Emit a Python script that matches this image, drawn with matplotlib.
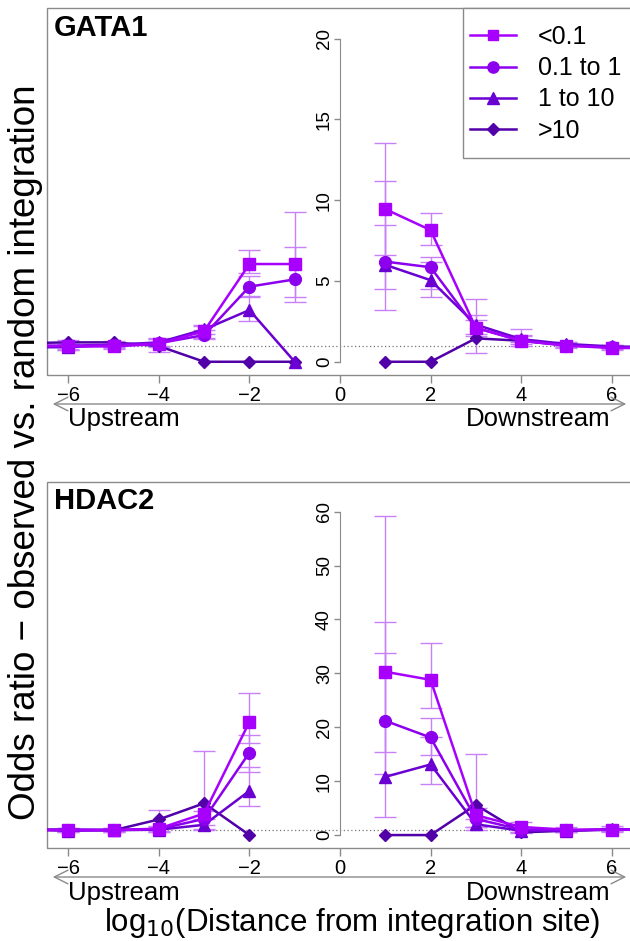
import numpy as np
import matplotlib
matplotlib.use("Agg")
import matplotlib.pyplot as plt
from matplotlib.patches import Rectangle, FancyArrowPatch
from matplotlib.lines import Line2D

plt.rcParams['font.family'] = ['Liberation Sans', 'DejaVu Sans']

nan = np.nan

# ---------------- data ----------------
categories = ["<0.1", "0.1 to 1", "1 to 10", ">10"]
tick_x = [-6, -4, -2, 0, 2, 4, 6]

# GATA1
g_x_up = [-7, -6, -5, -4, -3, -2, -1]
g_x_dn = [1, 2, 3, 4, 5, 6, 7]
g_lt01_up = [1.0, 0.95, 0.95, 1.1, 1.9, 6.05, 6.05]
g_lt01_dn = [9.45, 8.15, 2.1, 1.3, 1.0, 0.85, 0.85]
g_01to1_up = [1.0, 1.0, 1.05, 1.15, 1.65, 4.65, 5.1]
g_01to1_dn = [6.2, 5.85, 2.1, 1.3, 1.0, 0.9, 0.85]
g_1to10_up = [0.9, 0.9, 1.05, 1.2, 2.0, 3.2, 0.0]
g_1to10_dn = [6.0, 5.05, 2.3, 1.4, 1.1, 0.95, 0.9]
g_gt10_up = [1.15, 1.2, 1.2, 0.97, 0.0, 0.0, 0.0]
g_gt10_dn = [0.0, 0.0, 1.45, 1.3, 1.05, 0.9, 0.9]

# GATA1 confidence limits (low, high)
g_lt01_up_lo = [nan, 0.75, 0.8, 0.6, 1.5, 5.5, 3.7]
g_lt01_up_hi = [nan, 1.35, 1.3, 1.4, 2.2, 6.9, 9.26]
g_lt01_dn_lo = [6.6, 7.2, 0.53, 1.0, 0.85, 0.75, nan]
g_lt01_dn_hi = [13.55, 9.2, 3.88, 2.05, 1.2, 1.05, nan]
g_01to1_up_lo = [nan, 0.8, 0.85, 0.9, 1.4, 4.1, 4.0]
g_01to1_up_hi = [nan, 1.2, 1.25, 1.4, 1.95, 5.3, 7.1]
g_01to1_dn_lo = [3.2, 4.5, 1.6, 1.1, 0.9, 0.8, nan]
g_01to1_dn_hi = [11.2, 6.5, 2.6, 1.6, 1.15, 1.0, nan]
g_1to10_up_lo = [nan, 0.75, 0.9, 1.0, 1.7, 2.5, nan]
g_1to10_up_hi = [nan, 1.1, 1.2, 1.45, 2.3, 4.0, nan]
g_1to10_dn_lo = [4.5, 4.0, 1.7, 1.2, 0.95, 0.85, nan]
g_1to10_dn_hi = [8.45, 6.2, 2.9, 1.65, 1.25, 1.05, nan]

# HDAC2
h_x_up = [-7, -6, -5, -4, -3, -2]
h_x_dn = [1, 2, 3, 4, 5, 6, 7]
h_lt01_up = [1.0, 0.9, 0.9, 1.2, 4.0, 21.0]
h_lt01_dn = [30.3, 28.8, 3.7, 1.5, 1.0, 1.0, 1.0]
h_01to1_up = [1.0, 1.0, 1.0, 1.1, 3.0, 15.3]
h_01to1_dn = [21.2, 18.1, 3.0, 1.0, 0.9, 1.0, 1.0]
h_1to10_up = [1.0, 0.8, 0.9, 1.0, 1.9, 8.2]
h_1to10_dn = [10.8, 13.1, 2.0, 0.8, 0.8, 1.1, 1.0]
h_gt10_up = [1.0, 1.0, 0.9, 2.9, 5.9, 0.0]
h_gt10_dn = [0.0, 0.0, 5.6, 0.5, 0.8, 1.0, 1.0]

h_lt01_up_lo = [nan, 0.6, 0.6, 0.5, 1.0, 17.1]
h_lt01_up_hi = [nan, 1.4, 1.4, 4.6, 15.6, 26.3]
h_lt01_dn_lo = [15.5, 23.5, 1.5, 0.3, 0.6, 0.6, nan]
h_lt01_dn_hi = [59.1, 35.6, 15.0, 2.5, 1.5, 1.6, nan]
h_01to1_up_lo = [nan, 0.7, 0.7, 0.7, 1.8, 11.7]
h_01to1_up_hi = [nan, 1.3, 1.3, 1.6, 4.5, 18.5]
h_01to1_dn_lo = [11.4, 14.9, 1.5, 0.6, 0.6, 0.7, nan]
h_01to1_dn_hi = [39.5, 21.8, 5.0, 1.5, 1.2, 1.4, nan]
h_1to10_up_lo = [nan, 0.5, 0.6, 0.6, 1.2, 5.4]
h_1to10_up_hi = [nan, 1.2, 1.2, 1.5, 3.0, 12.7]
h_1to10_dn_lo = [3.4, 9.5, 1.0, 0.5, 0.5, 0.8, nan]
h_1to10_dn_hi = [33.8, 18.2, 3.0, 1.2, 1.1, 1.4, nan]

colors = ['#A800FF', '#8C00EE', '#6A00D2', '#5200A8']
err_color = '#C880F8'
markers = ['s', 'o', '^', 'D']
msizes = [8, 8.5, 9, 6]

W, H = 630, 941
fig = plt.figure(figsize=(W / 100, H / 100), dpi=100)


def fx(px):
    return px / W


def fy(py):
    return 1 - py / H


def panel(top, bottom, ylim, yticks, label, series, errs, legend=False):
    ax = fig.add_axes([fx(47), fy(bottom), fx(633) - fx(47), fy(top) - fy(bottom)])
    ax.set_xlim(-6.47, 6.47)
    ax.set_ylim(*ylim)
    for s in ['top', 'right', 'bottom']:
        ax.spines[s].set_visible(False)
    ax.add_patch(Rectangle((0, 0), 1, 1, transform=ax.transAxes, fill=False,
                           edgecolor='#8a8a8a', lw=1.0, clip_on=False, zorder=0))
    ax.spines['left'].set_position(('data', 0))
    ax.spines['left'].set_bounds(yticks[0], yticks[-1])
    ax.spines['left'].set_color('#8a8a8a')
    ax.set_yticks(yticks)
    ax.tick_params(axis='y', colors='#8a8a8a', labelcolor='black', length=4,
                   width=1, labelsize=13.5, labelrotation=90, pad=1)
    for t in ax.get_yticklabels():
        t.set_va('center')
    ax.set_xticks(tick_x)
    ax.tick_params(axis='x', colors='#8a8a8a', labelcolor='black', length=6,
                   width=1, labelsize=14.5, pad=2)
    ax.axhline(1, color='#777777', lw=0.9, ls=(0, (1, 2)), zorder=1)

    for i, (xu, yu, xd, yd) in enumerate(series):
        for (xs, (lo, hi), ys) in [(xu, errs[i][0], yu), (xd, errs[i][1], yd)]:
            if lo is None:
                continue
            lo_a = np.array(lo, float)
            hi_a = np.array(hi, float)
            ys_a = np.array(ys, float)
            m = ~np.isnan(lo_a)
            ax.errorbar(np.array(xs)[m], ys_a[m],
                        yerr=[ys_a[m] - lo_a[m], hi_a[m] - ys_a[m]],
                        fmt='none', ecolor=err_color, elinewidth=1.0,
                        capsize=8, capthick=1.0, zorder=2)
    for i, (xu, yu, xd, yd) in enumerate(reversed(series)):
        k = len(series) - 1 - i
        for xs, ys in [(xu, yu), (xd, yd)]:
            ax.plot(xs, ys, color=colors[k], marker=markers[k], ms=msizes[k],
                    mfc=colors[k], mec=colors[k], lw=1.8, zorder=3 + i,
                    clip_on=True)
    ax.text(0.012, 0.985, label, transform=ax.transAxes, fontsize=21,
            fontweight='bold', va='top', ha='left')
    if legend:
        fig.add_artist(Rectangle((fx(463), fy(158)), fx(700) - fx(463), fy(8) - fy(158),
                                 transform=fig.transFigure, facecolor='white',
                                 edgecolor='#8a8a8a', lw=1.0, zorder=9))
        hs = [Line2D([], [], color=colors[k], marker=markers[k], ms=msizes[k] * 0.95,
                     lw=1.8) for k in range(4)]
        leg = fig.legend(hs, categories, loc='upper left',
                         bbox_to_anchor=(fx(470), fy(25)), bbox_transform=fig.transFigure,
                         fontsize=18, frameon=False, borderaxespad=0,
                         handlelength=1.85, handletextpad=0.85, labelspacing=0.29,
                         borderpad=0)
        leg.set_zorder(10)
    return ax


g_series = [(g_x_up, g_lt01_up, g_x_dn, g_lt01_dn),
            (g_x_up, g_01to1_up, g_x_dn, g_01to1_dn),
            (g_x_up, g_1to10_up, g_x_dn, g_1to10_dn),
            (g_x_up, g_gt10_up, g_x_dn, g_gt10_dn)]
g_errs = [((g_lt01_up_lo, g_lt01_up_hi), (g_lt01_dn_lo, g_lt01_dn_hi)),
          ((g_01to1_up_lo, g_01to1_up_hi), (g_01to1_dn_lo, g_01to1_dn_hi)),
          ((g_1to10_up_lo, g_1to10_up_hi), (g_1to10_dn_lo, g_1to10_dn_hi)),
          ((None, None), (None, None))]
h_series = [(h_x_up, h_lt01_up, h_x_dn, h_lt01_dn),
            (h_x_up, h_01to1_up, h_x_dn, h_01to1_dn),
            (h_x_up, h_1to10_up, h_x_dn, h_1to10_dn),
            (h_x_up, h_gt10_up, h_x_dn, h_gt10_dn)]
h_errs = [((h_lt01_up_lo, h_lt01_up_hi), (h_lt01_dn_lo, h_lt01_dn_hi)),
          ((h_01to1_up_lo, h_01to1_up_hi), (h_01to1_dn_lo, h_01to1_dn_hi)),
          ((h_1to10_up_lo, h_1to10_up_hi), (h_1to10_dn_lo, h_1to10_dn_hi)),
          ((None, None), (None, None))]

ax1 = panel(8, 375, (-0.82, 21.9), [0, 5, 10, 15, 20], 'GATA1', g_series, g_errs, legend=True)
ax2 = panel(482, 848, (-2.4, 65.5), [0, 10, 20, 30, 40, 50, 60], 'HDAC2', h_series, h_errs)


def arrow_row(y_arrow, y_text):
    arr = FancyArrowPatch((fx(50), fy(y_arrow)), (fx(629), fy(y_arrow)),
                          transform=fig.transFigure,
                          arrowstyle='<->,head_length=0.7,head_width=0.35',
                          mutation_scale=14, color='#8a8a8a', lw=1.0)
    fig.add_artist(arr)
    fig.text(fx(68), fy(y_text), 'Upstream', fontsize=18.5, ha='left', va='center')
    fig.text(fx(611), fy(y_text), 'Downstream', fontsize=18.5, ha='right', va='center')


arrow_row(404, 419)
arrow_row(877, 893)

fig.text(fx(26), fy(452), 'Odds ratio \u2212 observed vs. random integration',
         rotation=90, fontsize=26.5, ha='center', va='center')
fig.text(fx(352), fy(923), r'log$_{10}$(Distance from integration site)',
         fontsize=22.5, ha='center', va='center')

fig.savefig('out.png', dpi=100)
